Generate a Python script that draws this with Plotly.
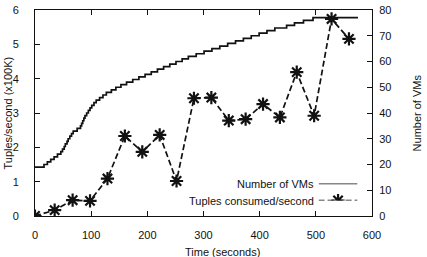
import plotly.graph_objects as go

# Tuples consumed per second (x100K)
tuple_times = [0, 35, 67, 98, 129, 160, 191, 222, 252, 283, 314, 345, 375, 406, 436, 466, 497, 528, 559]
tuple_rates = [0, 0.17, 0.46, 0.44, 1.09, 2.33, 1.87, 2.36, 1.02, 3.43, 3.45, 2.78, 2.82, 3.26, 2.87, 4.19, 2.92, 5.74, 5.16]

# Number of VMs (step changes): time at which the count changes, and new count
vm_times = [0, 16, 22, 28, 34, 40, 46, 49, 52, 54, 57, 59, 62, 65, 68, 75,
            81, 83, 85, 87, 89, 92, 95, 98, 101, 105, 109, 115, 121, 127,
            136, 144, 153, 163, 174, 185, 196, 207, 218, 229, 240, 251, 262, 273,
            287, 301, 315, 329, 343, 357, 371, 385, 399, 413, 427, 448, 462, 478, 495, 575]
vm_counts = [19, 20, 21, 22, 23, 24, 25, 26, 27, 28, 29, 30, 31, 32, 33, 34,
             35, 36, 37, 38, 39, 40, 41, 42, 43, 44, 45, 46, 47, 48,
             49, 50, 51, 52, 53, 54, 55, 56, 57, 58, 59, 60, 61, 62,
             63, 64, 65, 66, 67, 68, 69, 70, 71, 72, 73, 74, 75, 76, 77, 77]

x_ticks = [0, 100, 200, 300, 400, 500, 600]
y_ticks = [0, 1, 2, 3, 4, 5, 6]
y2_ticks = [0, 10, 20, 30, 40, 50, 60, 70, 80]

legend_labels = ["Number of VMs", "Tuples consumed/second"]
axis_titles = {"x": "Time (seconds)", "y": "Tuples/second (x100K)", "y2": "Number of VMs"}

FONT = "Liberation Sans, Arial, Helvetica, sans-serif"
INK = "#111111"

fig = go.Figure()
fig.add_trace(go.Scatter(
    x=vm_times, y=vm_counts, yaxis="y2", mode="lines", line_shape="hv",
    line=dict(color=INK, width=1.7), showlegend=False, name=legend_labels[0]))
fig.add_trace(go.Scatter(
    x=tuple_times, y=tuple_rates, mode="lines+markers",
    line=dict(color=INK, width=1.7, dash="6px,3px"),
    marker=dict(symbol="asterisk-open", size=11, color=INK, line=dict(color=INK, width=2.2)),
    showlegend=False, name=legend_labels[1]))

# legend sample traces on a helper axis (coordinates inside the legend box)
fig.add_trace(go.Scatter(x=[0, 1], y=[1, 1], xaxis="x3", yaxis="y3", mode="lines",
                         line=dict(color=INK, width=1.7), showlegend=False, hoverinfo="skip"))
fig.add_trace(go.Scatter(x=[0, 1], y=[0, 0], xaxis="x3", yaxis="y3", mode="lines",
                         line=dict(color=INK, width=1.7, dash="6px,3px"), showlegend=False, hoverinfo="skip"))
fig.add_trace(go.Scatter(x=[0.5], y=[0], xaxis="x3", yaxis="y3", mode="markers",
                         marker=dict(symbol="asterisk-open", size=11, color=INK, line=dict(color=INK, width=2.2)),
                         showlegend=False, hoverinfo="skip"))

W, H = 427, 257
L, R, T, B = 35, 54.5, 10, 41
pw = W - L - R
ph = H - T - B

def px_x(p):
    return (p - L) / pw

def px_y(p):
    return (H - B - p) / ph

tick_font = dict(family=FONT, size=11, color=INK)

fig.update_layout(
    width=W, height=H,
    margin=dict(l=L, r=R, t=T, b=B, pad=0, autoexpand=False),
    paper_bgcolor="white", plot_bgcolor="white",
    font=dict(family=FONT, size=11, color=INK),
    xaxis=dict(range=[0, 600], tickvals=x_ticks, ticks="inside", ticklen=5, tickcolor=INK,
               showline=True, linecolor=INK, linewidth=1, mirror="ticks", showgrid=False,
               zeroline=False, tickfont=tick_font, ticklabelstandoff=9, automargin=False),
    yaxis=dict(range=[0, 6], tickvals=y_ticks, ticks="inside", ticklen=5, tickcolor=INK,
               showline=True, linecolor=INK, linewidth=1, mirror=False, showgrid=False,
               zeroline=False, tickfont=tick_font, ticklabelstandoff=13, automargin=False),
    yaxis2=dict(range=[0, 80], tickvals=y2_ticks, ticks="inside", ticklen=5, tickcolor=INK,
                overlaying="y", side="right", anchor="x", automargin=False,
                showline=True, linecolor=INK, linewidth=1, showgrid=False, zeroline=False,
                tickfont=tick_font, ticklabelstandoff=4),
    xaxis3=dict(domain=[px_x(319), px_x(358)], range=[0, 1], visible=False, anchor="y3"),
    yaxis3=dict(domain=[px_y(200.5), px_y(183.5)], range=[0, 1], visible=False, anchor="x3"),
    showlegend=False,
)

title_font = dict(family=FONT, size=11, color=INK)
fig.add_annotation(text=axis_titles["x"], xref="paper", yref="paper", x=px_x(223), y=px_y(252),
                   xanchor="center", yanchor="middle", showarrow=False, font=title_font)
fig.add_annotation(text=axis_titles["y"], xref="paper", yref="paper", x=px_x(7.5), y=px_y(113),
                   xanchor="center", yanchor="middle", showarrow=False, font=title_font, textangle=-90)
fig.add_annotation(text=axis_titles["y2"], xref="paper", yref="paper", x=px_x(418), y=px_y(113),
                   xanchor="center", yanchor="middle", showarrow=False, font=title_font, textangle=-90)

fig.add_annotation(text=legend_labels[0], xref="paper", yref="paper", x=px_x(316), y=px_y(183.5),
                   xanchor="right", yanchor="middle", showarrow=False, font=title_font)
fig.add_annotation(text=legend_labels[1], xref="paper", yref="paper", x=px_x(316), y=px_y(200.5),
                   xanchor="right", yanchor="middle", showarrow=False, font=title_font)

fig.write_html("out.html")
